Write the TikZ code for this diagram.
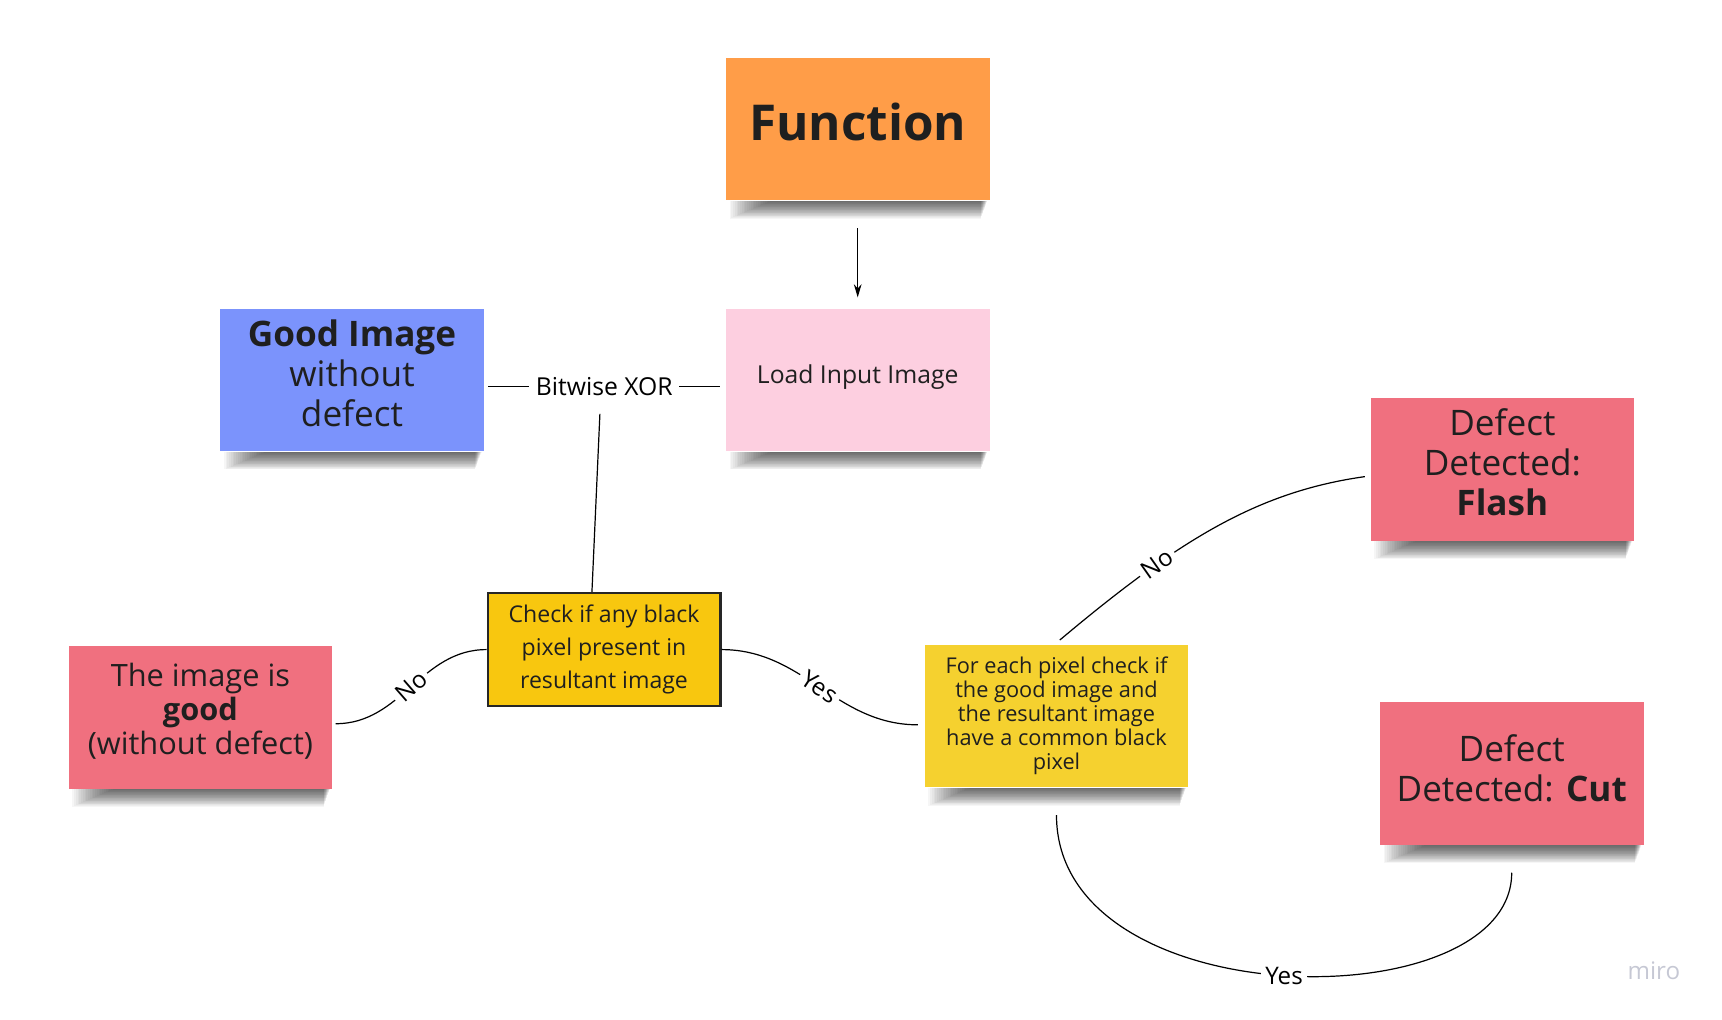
\documentclass[tikz,border=0pt]{standalone}
\usepackage{fontspec}
\setmainfont{Open Sans}
\usetikzlibrary{positioning, arrows.meta}
\definecolor{stickyorange}{HTML}{FF9D48}
\definecolor{stickypink}{HTML}{FDCFE0}
\definecolor{stickyblue}{HTML}{7B93FC}
\definecolor{stickyred}{HTML}{F0707F}
\definecolor{stickyyellow}{HTML}{F5D12F}
\definecolor{checkyellow}{HTML}{F8C70F}
\definecolor{mirogray}{HTML}{C6C8D4}

\begin{document}
\begin{tikzpicture}[
    x=1pt, y=1pt,
    on grid,
    sticky/.style={minimum width=240pt, minimum height=130pt, inner sep=0pt, align=center, text=black!88},
    bigtext/.style={font=\fontsize{32}{36.5}\selectfont},
    lbl/.style={fill=white, inner sep=4pt, font=\fontsize{22}{24}\selectfont},
    every edge/.append style={line width=1.1pt, >={Stealth[length=12pt, width=7pt]}}
]
   \useasboundingbox (0,0) rectangle (1568,928);

   % Sticky notes
   \node[sticky, fill=stickyorange, font=\fontsize{45}{50}\selectfont\bfseries, text depth=14pt] (func) at (781,810.5) {Function};
   \node[sticky, fill=stickypink, font=\fontsize{22.5}{25}\selectfont, text depth=10pt] (load) [below=228.5pt of func] {Load Input Image};
   \node[sticky, fill=stickyblue, bigtext, text depth=12pt] (good) [left=460.5pt of load] {\textbf{Good Image}\\without\\defect};
   \node[draw=black!85, line width=2pt, fill=checkyellow, minimum width=212pt, minimum height=103pt, inner sep=0pt,
         align=center, text=black!88, font=\fontsize{21}{30}\selectfont] (check) [below right=245.5pt and 229.5pt of good]
         {Check if any black\\pixel present in\\resultant image};
   \node[sticky, fill=stickyred, font=\fontsize{28}{31}\selectfont, text depth=15pt] (imggood) [below left=61.5pt and 367.5pt of check]
         {The image is\\\textbf{good}\\(without defect)};
   \node[sticky, fill=stickyyellow, font=\fontsize{19.8}{21.75}\selectfont] (pixel) [below right=60.5pt and 412pt of check]
         {For each pixel check if\\the good image and\\the resultant image\\have a common black\\pixel};
   \node[sticky, fill=stickyred, bigtext, text depth=13pt] (flash) [above right=224.5pt and 406pt of pixel] {Defect\\Detected:\\\textbf{Flash}};
   \node[sticky, fill=stickyred, bigtext, text depth=10pt] (cut) [below right=52.5pt and 414.5pt of pixel] {Defect\\Detected: \textbf{Cut}};

   % shadows under the notes
   \foreach \n in {func, load, good, imggood, pixel, flash, cut}
     \foreach \i in {1,...,24}
       \fill[black, opacity=0.034] ([xshift={42-1.6*\i}]\n.south west) rectangle ([xshift={-2-0.25*\i}, yshift={-0.68*\i}]\n.south east);

   % Connectors
   \draw[line width=1.1pt] ([shift={(4,-6)}]good.east) -- node[lbl, inner xsep=6pt, font=\fontsize{22.5}{25}\selectfont] (xor) {Bitwise XOR} ([shift={(-5,-6)}]load.west);
   \draw[line width=1.1pt] ([xshift=-4pt, yshift=-12pt]xor.south) -- ([xshift=-11pt]check.north);

   \path[->]
   ([yshift=-25pt]func.south) edge ([yshift=10pt]load.north);

   \path
   (check.west) edge [out=180, in=0] node [lbl, sloped] {No} ([shift={(3,-6)}]imggood.east)
   (check.east) edge [out=0, in=180] node [lbl, sloped] {Yes} ([shift={(-6,-8)}]pixel.west);

   \draw[line width=1.1pt] ([shift={(3,4)}]pixel.north) .. controls +(40:140) and +(188:100) ..
        node [lbl, sloped, pos=.3] {No} ([shift={(-5,-6.5)}]flash.west);
   \draw[line width=1.1pt] ([yshift=-25pt]pixel.south) .. controls +(0,-185) and +(0,-135) ..
        node [lbl] {Yes} ([yshift=-25pt]cut.south);

   % watermark
   \node[text=mirogray, font=\fontsize{22}{24}\selectfont] (miro) at (1506,44) {miro};
\end{tikzpicture}
\end{document}
